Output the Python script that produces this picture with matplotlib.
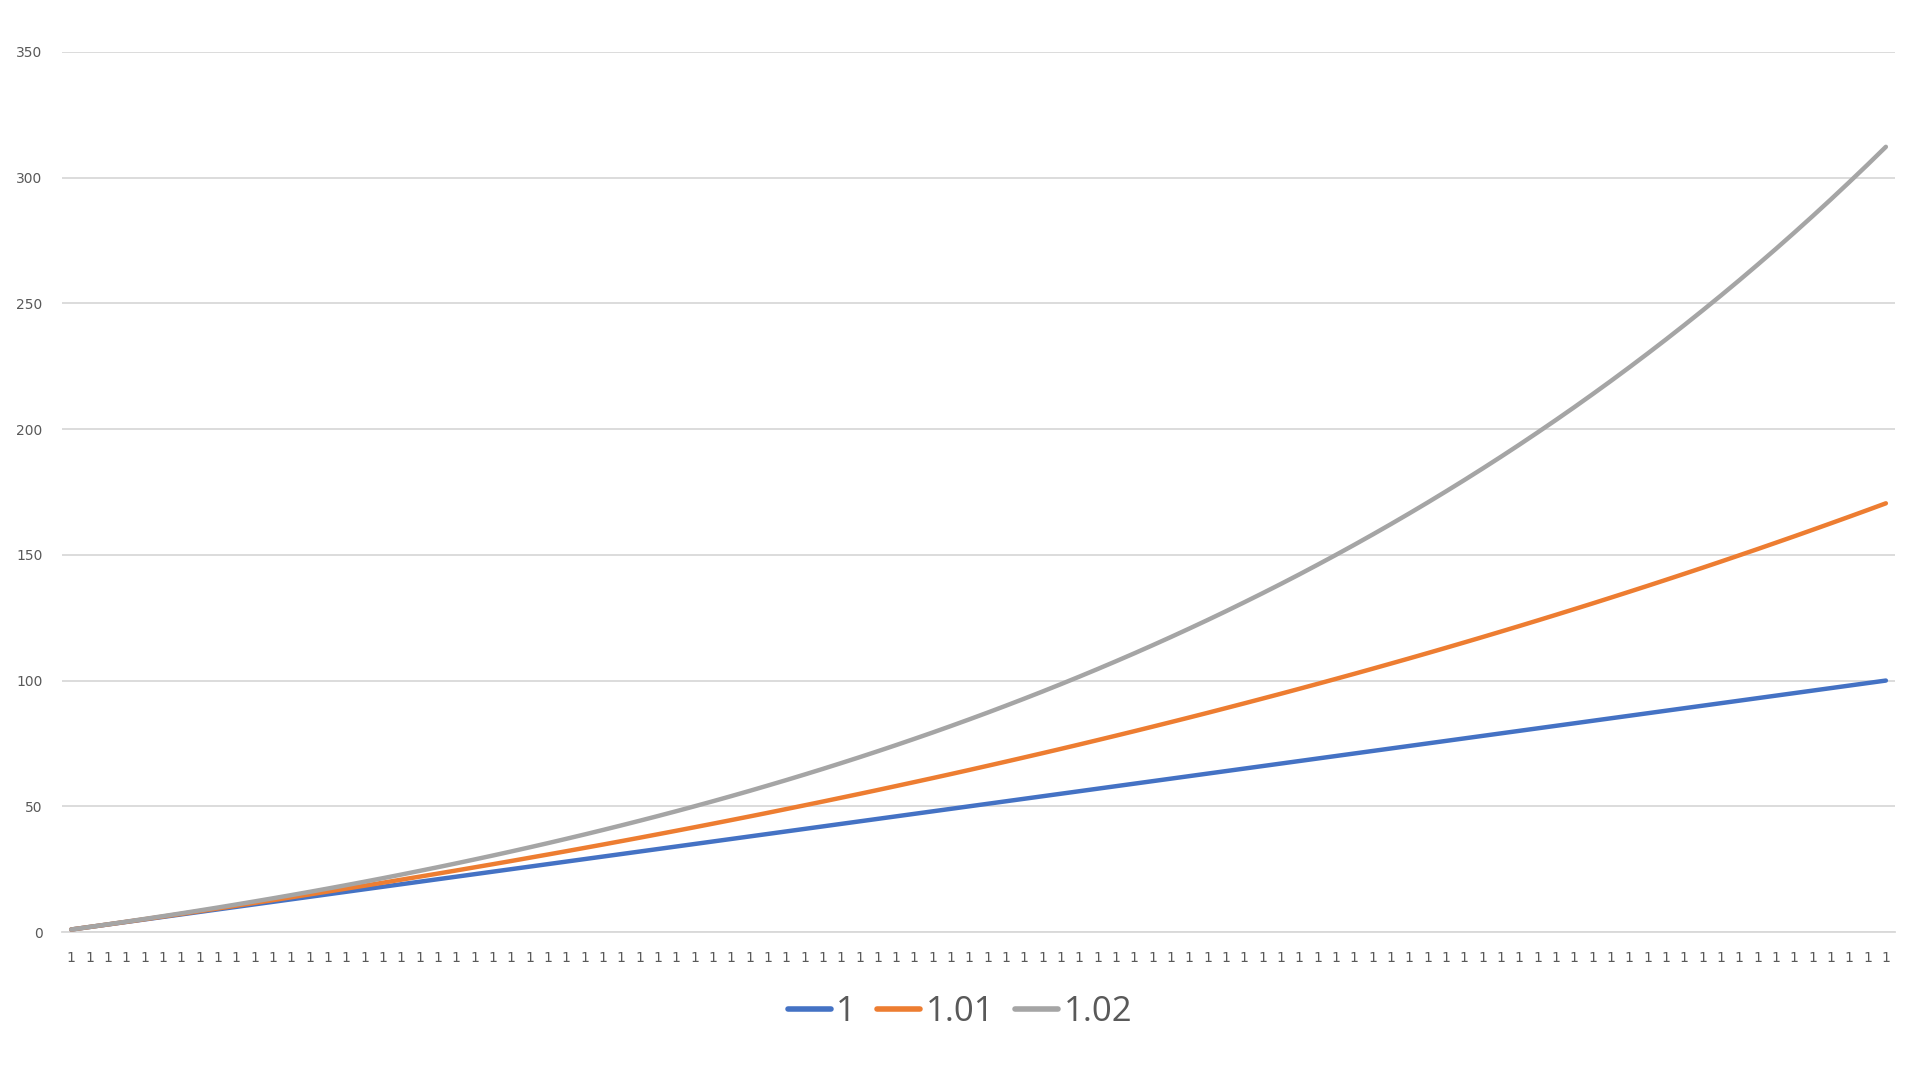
#!/usr/bin/env python

# Three cumulative growth series (rate 1, 1.01, 1.02) over 100 steps,
#  drawn in the flat office-chart style.

import matplotlib
matplotlib.use("Agg")
import matplotlib.pyplot as plt

# Series values, one per step
steps = list(range(1, 101))
series_1 = [float(v) for v in range(1, 101)]
series_101 = [
    1.00, 2.01, 3.03, 4.06, 5.10, 6.15, 7.21, 8.29, 9.37, 10.46,
    11.57, 12.68, 13.81, 14.95, 16.10, 17.26, 18.43, 19.61, 20.81, 22.02,
    23.24, 24.47, 25.72, 26.97, 28.24, 29.53, 30.82, 32.13, 33.45, 34.78,
    36.13, 37.49, 38.87, 40.26, 41.66, 43.08, 44.51, 45.95, 47.41, 48.89,
    50.38, 51.88, 53.40, 54.93, 56.48, 58.05, 59.63, 61.22, 62.83, 64.46,
    66.11, 67.77, 69.45, 71.14, 72.85, 74.58, 76.33, 78.09, 79.87, 81.67,
    83.49, 85.32, 87.17, 89.05, 90.94, 92.85, 94.77, 96.72, 98.69, 100.68,
    102.68, 104.71, 106.76, 108.82, 110.91, 113.02, 115.15, 117.30, 119.48, 121.67,
    123.89, 126.13, 128.39, 130.67, 132.98, 135.31, 137.66, 140.04, 142.44, 144.86,
    147.31, 149.79, 152.28, 154.81, 157.35, 159.93, 162.53, 165.15, 167.80, 170.48,
]
series_102 = [
    1.00, 2.02, 3.06, 4.12, 5.20, 6.31, 7.43, 8.58, 9.75, 10.95,
    12.17, 13.41, 14.68, 15.97, 17.29, 18.64, 20.01, 21.41, 22.84, 24.30,
    25.78, 27.30, 28.85, 30.42, 32.03, 33.67, 35.34, 37.05, 38.79, 40.57,
    42.38, 44.23, 46.11, 48.03, 49.99, 51.99, 54.03, 56.11, 58.24, 60.40,
    62.61, 64.86, 67.16, 69.50, 71.89, 74.33, 76.82, 79.35, 81.94, 84.58,
    87.27, 90.02, 92.82, 95.67, 98.59, 101.56, 104.59, 107.68, 110.83, 114.05,
    117.33, 120.68, 124.09, 127.57, 131.13, 134.75, 138.44, 142.21, 146.06, 149.98,
    153.98, 158.06, 162.22, 166.46, 170.79, 175.21, 179.71, 184.31, 188.99, 193.77,
    198.65, 203.62, 208.69, 213.87, 219.14, 224.53, 230.02, 235.62, 241.33, 247.16,
    253.10, 259.16, 265.35, 271.65, 278.09, 284.65, 291.34, 298.17, 305.13, 312.23,
]
series_names = ["1", "1.01", "1.02"]
tick_labels = ["1"] * len(steps)
y_ticks = [0, 50, 100, 150, 200, 250, 300, 350]

colours = ["#4472C4", "#ED7D31", "#A5A5A5"]
text_grey = "#595959"

plt.rcParams["font.family"] = ["Open Sans", "DejaVu Sans"]

fig = plt.figure(figsize=(19.2, 10.8), dpi=100, facecolor="white")
ax = fig.add_axes([0.0323, 0.137, 0.9547, 0.815])

# x positions are category indices, Excel style (points in middle of slots)
xpos = list(range(len(steps)))
for vals, name, col in zip([series_1, series_101, series_102],
                           series_names, colours):
    ax.plot(xpos, vals, color=col, linewidth=3.2, label=name,
            solid_capstyle="round", zorder=3)

ax.set_xlim(-0.5, len(steps) - 0.5)
ax.set_ylim(0, 350)
ax.set_yticks(y_ticks)
ax.set_xticks(xpos)
ax.set_xticklabels(tick_labels)

# Light horizontal grid only
ax.grid(axis="y", color="#D9D9D9", linewidth=1.3, zorder=0)
ax.set_axisbelow(True)
for side in ["top", "right", "left"]:
    ax.spines[side].set_visible(False)
ax.spines["bottom"].set_color("#D9D9D9")
ax.spines["bottom"].set_linewidth(1.3)

ax.tick_params(axis="both", length=0, colors=text_grey, labelsize=10)
ax.tick_params(axis="y", pad=14)
ax.tick_params(axis="x", pad=14)
for lab in ax.get_xticklabels() + ax.get_yticklabels():
    lab.set_family(["DejaVu Sans"])

leg = fig.legend(loc="center", bbox_to_anchor=(0.5, 1 - 1012 / 1080),
                 ncol=3, frameon=False, fontsize=25,
                 handlelength=1.25, handletextpad=0.15,
                 columnspacing=0.6, labelcolor=text_grey)
for line in leg.get_lines():
    line.set_linewidth(4)

fig.savefig("out.png", dpi=100, facecolor="white")
